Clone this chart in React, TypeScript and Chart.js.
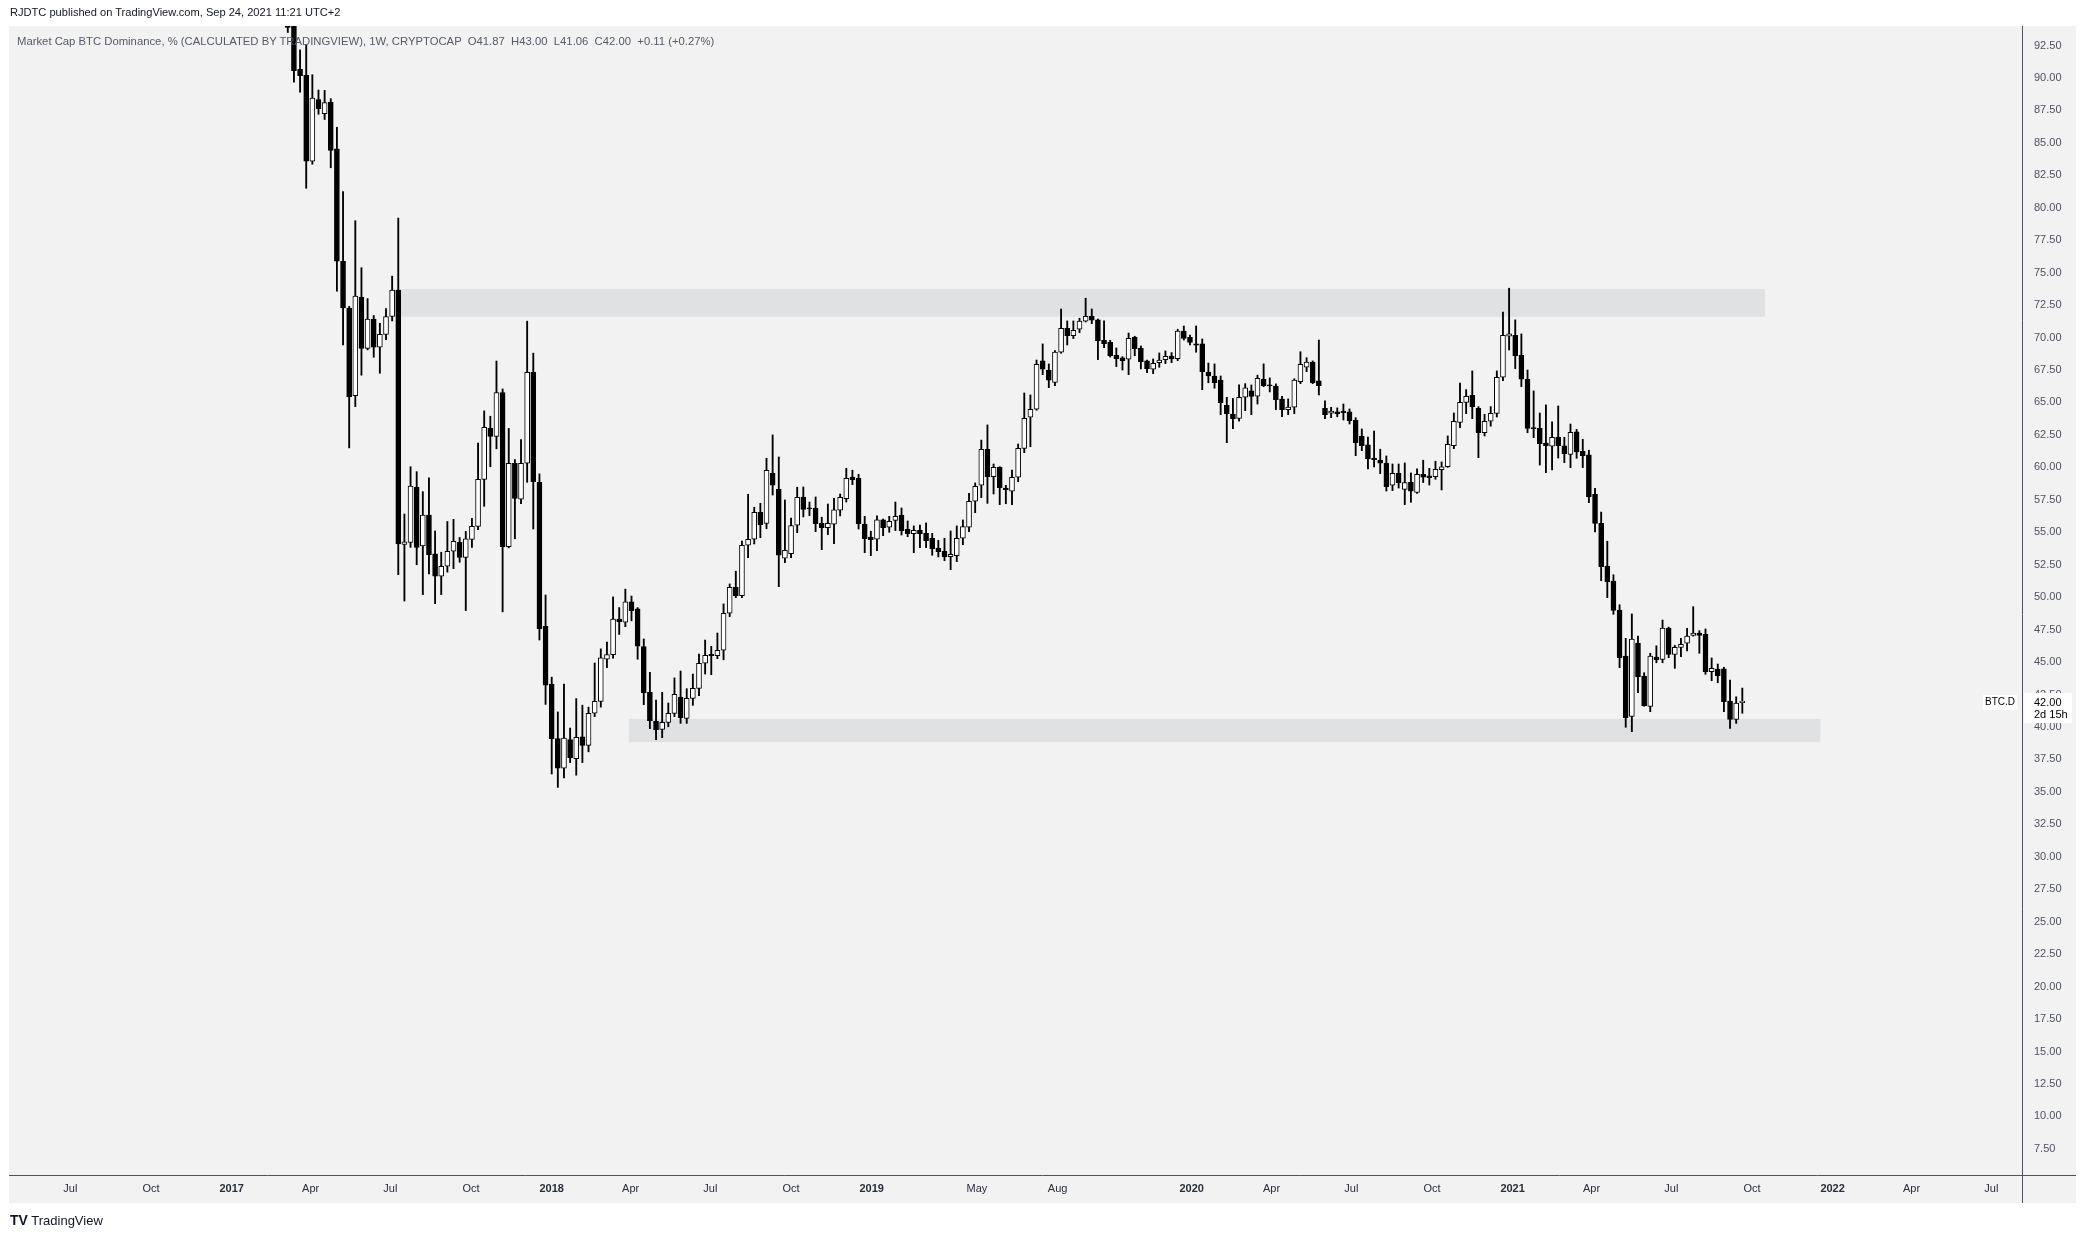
import React, { useEffect, useRef } from 'react';
import { Chart, registerables } from 'chart.js';

Chart.register(...registerables);

// ---- data (weekly candles, BTC dominance %, first candle week of 2017-03-06) ----
const firstWeek = '2017-03-06';

const opens = [
  95.5, 94.6, 90.67, 90.2, 83.58, 88.33, 87.25, 88.14, 84.53, 75.88,
  72.28, 65.53, 73.12, 69.17, 71.43, 69.25, 70.25, 71.62, 73.66, 54.07,
  54.22, 58.47, 53.95, 56.33, 53.34, 51.62, 52.38, 53.54, 54.22, 53.07,
  54.45, 55.46, 59.07, 63.0, 62.38, 65.77, 53.89, 60.32, 57.55, 60.32,
  67.33, 58.85, 47.78, 43.3, 39.1, 36.82, 39.03, 37.56, 39.24, 38.59,
  41.06, 41.98, 45.22, 45.58, 48.32, 48.08, 49.64, 49.11, 46.2, 42.67,
  40.44, 39.82, 40.36, 41.05, 42.29, 40.67, 42.21, 42.98, 44.91, 45.6,
  45.49, 45.91, 48.76, 50.76, 50.12, 54.0, 54.46, 56.54, 55.69, 59.55,
  58.3, 53.0, 53.36, 55.54, 57.72, 56.85, 56.85, 55.69, 55.35, 55.62,
  56.7, 57.59, 59.26, 59.16, 55.64, 54.64, 54.46, 55.95, 55.39, 55.92,
  56.31, 55.22, 54.89, 55.15, 54.92, 54.54, 53.79, 53.54, 53.12, 53.2,
  54.54, 55.39, 57.39, 58.62, 61.39, 59.28, 60.0, 58.41, 58.16, 59.24,
  61.46, 63.86, 64.48, 68.2, 67.5, 66.55, 68.87, 70.72, 70.15, 70.64,
  71.26, 71.64, 71.36, 69.79, 69.64, 68.64, 68.43, 68.33, 70.02, 69.17,
  68.2, 67.56, 68.07, 68.3, 68.58, 68.37, 70.49, 70.02, 69.51, 69.51,
  67.35, 67.04, 66.73, 64.78, 64.11, 63.78, 65.4, 65.89, 65.48, 66.79,
  66.35, 66.27, 65.27, 64.45, 64.63, 66.6, 67.71, 68.12, 66.66, 64.54,
  64.17, 64.27, 64.34, 64.27, 63.63, 62.42, 61.73, 60.72, 60.57, 60.34,
  58.62, 59.55, 58.31, 58.85, 58.08, 59.47, 59.34, 59.28, 59.82, 60.05,
  61.67, 63.47, 65.01, 65.55, 64.55, 62.67, 63.55, 64.16, 66.94, 70.1,
  70.18, 68.64, 66.79, 63.03, 63.01, 61.88, 61.63, 62.34, 61.65, 61.0,
  62.73, 61.24, 60.96, 57.93, 55.69, 52.4, 51.25, 49.01, 45.47, 40.82,
  46.47, 43.93, 41.59, 45.39, 45.21, 47.63, 45.6, 46.14, 46.45, 47.06,
  47.24, 47.16, 44.26, 44.47, 44.49, 42.0, 40.59, 41.87,
];

const highs = [
  96.5, 95.2, 92.16, 92.55, 90.25, 89.07, 89.04, 88.4, 86.2, 81.25,
  72.4, 79.0, 75.38, 73.0, 71.7, 71.1, 72.23, 74.73, 79.2, 56.41,
  60.05, 59.67, 58.13, 59.2, 55.1, 53.46, 55.83, 56.0, 54.6, 55.07,
  56.07, 61.88, 64.35, 63.94, 68.19, 66.04, 63.0, 60.6, 62.14, 71.26,
  68.8, 59.5, 50.17, 43.84, 41.16, 43.3, 39.92, 42.19, 41.68, 41.53,
  44.93, 46.02, 46.55, 50.02, 49.2, 50.62, 50.09, 49.2, 46.78, 44.21,
  42.08, 42.67, 41.85, 43.78, 44.31, 42.95, 44.08, 45.62, 46.7, 46.22,
  47.24, 49.48, 51.02, 52.0, 54.33, 57.93, 56.93, 57.23, 60.7, 62.5,
  60.8, 57.49, 56.1, 58.47, 58.49, 57.33, 57.72, 56.16, 57.18, 57.62,
  57.95, 59.93, 59.78, 59.47, 56.23, 55.08, 56.26, 56.02, 56.23, 57.33,
  56.87, 55.87, 55.49, 55.56, 55.72, 54.92, 54.38, 54.54, 55.1, 55.49,
  55.95, 58.0, 58.8, 62.1, 63.27, 60.26, 60.05, 58.62, 59.8, 61.8,
  65.73, 65.58, 68.27, 69.51, 67.97, 69.0, 72.2, 71.28, 71.28, 71.49,
  73.03, 72.2, 71.43, 71.28, 69.79, 69.2, 68.53, 70.35, 70.1, 69.35,
  68.27, 68.35, 68.81, 68.97, 68.84, 70.64, 70.89, 70.2, 70.89, 69.89,
  68.04, 67.97, 67.04, 65.4, 65.32, 66.35, 66.45, 66.35, 67.1, 67.97,
  66.89, 66.43, 65.47, 65.27, 66.83, 68.91, 68.45, 68.2, 69.81, 65.12,
  64.63, 64.58, 64.88, 64.5, 63.83, 62.96, 62.34, 62.8, 61.4, 60.88,
  60.26, 60.26, 60.34, 59.57, 59.88, 60.55, 59.93, 60.47, 60.42, 62.42,
  64.19, 66.5, 65.99, 67.43, 64.68, 64.09, 64.68, 67.43, 71.96, 73.8,
  71.36, 70.28, 67.5, 65.89, 64.19, 64.81, 63.5, 64.73, 62.32, 63.34,
  62.93, 62.16, 61.32, 58.39, 56.56, 54.31, 51.73, 49.42, 46.83, 48.71,
  47.01, 44.18, 45.68, 46.26, 48.24, 47.7, 46.29, 46.83, 47.6, 49.27,
  47.42, 47.55, 45.32, 44.85, 44.6, 43.62, 42.33, 43.0,
];

const lows = [
  93.5, 89.67, 88.9, 81.5, 83.35, 87.2, 86.8, 83.08, 73.57, 69.43,
  61.5, 64.68, 67.1, 69.05, 68.48, 67.25, 69.83, 71.28, 51.73, 49.7,
  53.84, 52.5, 50.2, 51.8, 49.5, 50.2, 51.93, 52.2, 52.69, 48.97,
  53.83, 55.2, 57.0, 60.05, 61.43, 48.87, 53.8, 54.5, 57.2, 58.85,
  55.25, 46.7, 41.74, 36.38, 35.35, 36.08, 37.26, 36.29, 37.26, 38.09,
  40.8, 41.53, 44.57, 45.3, 47.13, 47.73, 48.17, 45.22, 41.72, 39.87,
  39.02, 39.18, 40.02, 40.8, 40.28, 40.28, 41.67, 42.41, 44.08, 44.03,
  45.26, 45.18, 48.5, 49.96, 49.96, 53.04, 54.1, 54.58, 55.28, 57.87,
  50.81, 52.66, 53.04, 54.97, 56.18, 56.28, 55.05, 53.66, 54.82, 54.12,
  56.26, 57.33, 58.67, 55.25, 53.43, 53.2, 53.58, 54.74, 55.0, 55.13,
  54.79, 54.66, 53.43, 53.82, 53.82, 53.23, 53.1, 52.81, 52.12, 52.74,
  54.04, 55.05, 56.51, 57.67, 57.23, 57.95, 57.13, 57.2, 57.13, 58.9,
  61.13, 61.59, 64.4, 67.14, 66.14, 66.29, 68.79, 69.43, 69.92, 70.38,
  71.2, 71.07, 68.3, 69.22, 68.5, 67.76, 67.5, 67.14, 68.6, 67.58,
  67.3, 67.22, 67.71, 67.99, 68.07, 68.22, 69.81, 69.43, 68.87, 65.98,
  66.52, 66.1, 64.06, 61.9, 62.98, 63.55, 64.37, 64.06, 64.88, 66.22,
  65.81, 64.45, 63.9, 64.06, 64.14, 66.45, 67.37, 66.45, 65.58, 63.75,
  63.83, 63.9, 63.65, 63.34, 60.9, 61.29, 59.88, 60.03, 59.52, 58.18,
  58.21, 58.41, 57.13, 57.31, 58.0, 58.83, 58.64, 59.08, 58.26, 60.0,
  61.44, 63.06, 64.14, 63.75, 60.75, 62.42, 63.17, 63.88, 66.68, 69.04,
  67.6, 66.22, 62.67, 62.29, 60.18, 59.59, 59.8, 60.72, 60.36, 59.98,
  60.7, 59.98, 57.28, 55.02, 51.27, 49.96, 48.68, 44.57, 39.98, 39.64,
  42.64, 41.6, 41.18, 44.95, 44.95, 45.34, 44.52, 45.42, 45.86, 47.0,
  45.68, 44.06, 43.57, 43.41, 41.18, 39.9, 40.28, 41.06,
];

const closes = [
  93.9, 90.56, 90.17, 83.58, 88.45, 87.63, 88.1, 84.42, 75.88, 72.28,
  65.45, 73.2, 69.17, 71.43, 69.25, 70.25, 71.62, 73.66, 54.1, 54.26,
  58.55, 53.84, 56.33, 53.27, 51.62, 52.38, 53.54, 54.3, 53.07, 54.5,
  55.46, 59.07, 63.09, 62.38, 65.77, 53.89, 60.32, 57.6, 60.32, 67.33,
  58.9, 47.58, 43.22, 39.1, 36.82, 39.15, 37.64, 39.2, 38.59, 41.06,
  41.98, 45.32, 45.58, 48.32, 48.11, 49.64, 48.97, 46.22, 42.64, 40.49,
  39.8, 40.36, 41.05, 42.52, 40.72, 42.21, 42.98, 44.91, 45.52, 45.49,
  45.91, 48.76, 50.76, 50.12, 54.0, 54.46, 56.54, 55.59, 59.78, 58.62,
  53.23, 53.61, 55.52, 57.7, 56.77, 56.8, 55.66, 55.35, 55.69, 56.72,
  57.7, 59.16, 59.05, 55.66, 54.51, 54.43, 55.95, 55.35, 55.85, 56.23,
  55.12, 54.89, 55.15, 54.89, 54.35, 53.74, 53.51, 53.12, 53.31, 54.54,
  55.43, 57.39, 58.54, 61.39, 59.28, 60.0, 58.43, 58.28, 59.24, 61.46,
  63.78, 64.48, 67.94, 67.56, 66.71, 68.89, 70.72, 70.15, 70.56, 71.26,
  71.64, 71.33, 69.76, 69.53, 68.6, 68.37, 68.22, 69.94, 69.14, 68.14,
  67.6, 68.02, 68.27, 68.56, 68.35, 70.49, 69.94, 69.63, 69.41, 67.37,
  67.04, 66.52, 64.98, 64.14, 63.75, 65.4, 66.12, 65.46, 66.86, 66.3,
  66.27, 65.22, 64.45, 64.65, 66.73, 67.94, 68.12, 66.52, 66.3, 64.06,
  64.34, 64.14, 64.21, 63.6, 61.9, 61.67, 60.65, 60.59, 60.32, 58.51,
  59.55, 58.83, 58.83, 58.16, 59.47, 59.24, 59.21, 59.85, 60.05, 61.78,
  63.55, 65.01, 65.47, 64.68, 62.67, 63.55, 64.16, 66.94, 70.18, 70.28,
  68.6, 66.79, 63.01, 62.98, 61.83, 61.67, 62.32, 61.67, 61.06, 62.7,
  61.19, 60.9, 57.74, 55.69, 52.35, 51.19, 48.99, 45.34, 40.72, 46.78,
  43.88, 41.64, 45.47, 45.18, 47.63, 45.6, 46.14, 46.37, 47.01, 47.24,
  47.06, 44.26, 44.52, 43.95, 41.95, 40.59, 41.85, 42.0,
];

// horizontal support / resistance zones drawn on the chart
const zoneStarts = ['2017-07-03', '2018-03-30'];
const zoneEnds = ['2021-10-16', '2021-12-18'];
const zoneLows = [71.6, 38.84];
const zoneHighs = [73.74, 40.62];

// time axis ticks
const xTickDates = [
  '2016-07-01', '2016-10-01', '2017-01-01', '2017-04-01', '2017-07-01', '2017-10-01',
  '2018-01-01', '2018-04-01', '2018-07-01', '2018-10-01', '2019-01-01', '2019-05-01',
  '2019-08-01', '2020-01-01', '2020-04-01', '2020-07-01', '2020-10-01', '2021-01-01',
  '2021-04-01', '2021-07-01', '2021-10-01', '2022-01-01', '2022-04-01', '2022-07-01',
];
const xTickLabels = [
  'Jul', 'Oct', '2017', 'Apr', 'Jul', 'Oct', '2018', 'Apr', 'Jul', 'Oct', '2019', 'May',
  'Aug', '2020', 'Apr', 'Jul', 'Oct', '2021', 'Apr', 'Jul', 'Oct', '2022', 'Apr', 'Jul',
];
const viewStart = '2016-04-22';
const viewEnd = '2022-08-05';

// price axis ticks
const yTicks = [
  7.5, 10, 12.5, 15, 17.5, 20, 22.5, 25, 27.5, 30, 32.5, 35, 37.5, 40, 42.5, 45, 47.5,
  50, 52.5, 55, 57.5, 60, 62.5, 65, 67.5, 70, 72.5, 75, 77.5, 80, 82.5, 85, 87.5, 90, 92.5,
];
const yMin = 5.49;
const yMax = 94.0;

const symbol = 'BTC.D';
const lastPrice = 42.0;
const countdown = '2d 15h';
const publishedText = 'RJDTC published on TradingView.com, Sep 24, 2021 11:21 UTC+2';
const legendText =
  'Market Cap BTC Dominance, % (CALCULATED BY TRADINGVIEW), 1W, CRYPTOCAP  O41.87  H43.00  L41.06  C42.00  +0.11 (+0.27%)';

// ---- helpers ----
const ORIGIN = Date.UTC(2017, 0, 1);
const dayOf = (s: string) => (Date.parse(s + 'T00:00:00Z') - ORIGIN) / 86400000;

const FONT = "'Liberation Sans', Arial, sans-serif";
const PANEL = '#f2f2f2';
const AXIS_LINE = '#50535e';
const TEXT = '#131722';

export default function App() {
  const canvasRef = useRef<HTMLCanvasElement | null>(null);

  useEffect(() => {
    const canvas = canvasRef.current;
    if (!canvas) return;
    const x0 = dayOf(firstWeek);
    const xs = opens.map((_, i) => x0 + 7 * i);
    const bodyData = xs.map((x, i) => ({ x, y: [opens[i], closes[i]] }));
    const wickData = xs.map((x, i) => ({ x, y: [lows[i], highs[i]] }));
    const bodyColors = xs.map((_, i) => (closes[i] >= opens[i] ? '#ffffff' : '#000000'));

    const panelPlugin = {
      id: 'panel',
      beforeDraw(chart: any) {
        const { ctx, chartArea } = chart;
        ctx.save();
        ctx.fillStyle = '#ffffff';
        ctx.fillRect(0, 0, chart.width, chart.height);
        ctx.fillStyle = PANEL;
        ctx.fillRect(chartArea.left, chartArea.top, 2076 - chartArea.left, 1203 - chartArea.top);
        ctx.restore();
      },
      beforeDatasetsDraw(chart: any) {
        const { ctx, chartArea, scales } = chart;
        ctx.save();
        ctx.beginPath();
        ctx.rect(chartArea.left, chartArea.top, chartArea.right - chartArea.left, chartArea.bottom - chartArea.top);
        ctx.clip();
        ctx.fillStyle = '#e0e1e3';
        zoneStarts.forEach((s, i) => {
          const xa = scales.x.getPixelForValue(dayOf(s));
          const xb = scales.x.getPixelForValue(dayOf(zoneEnds[i]));
          const ya = scales.y.getPixelForValue(zoneHighs[i]);
          const yb = scales.y.getPixelForValue(zoneLows[i]);
          ctx.fillRect(xa, ya, xb - xa, yb - ya);
        });
        ctx.restore();
      },
      afterDraw(chart: any) {
        const { ctx, chartArea, scales } = chart;
        ctx.save();
        ctx.strokeStyle = AXIS_LINE;
        ctx.lineWidth = 1;
        ctx.beginPath();
        ctx.moveTo(chartArea.left, Math.round(chartArea.bottom) + 0.5);
        ctx.lineTo(2076, Math.round(chartArea.bottom) + 0.5);
        ctx.moveTo(Math.round(chartArea.right) + 0.5, chartArea.top);
        ctx.lineTo(Math.round(chartArea.right) + 0.5, 1203);
        ctx.stroke();

        // last price label on the price scale
        const py = scales.y.getPixelForValue(lastPrice);
        const bx = Math.round(chartArea.right) + 2;
        ctx.fillStyle = '#ffffff';
        ctx.fillRect(bx, py - 8, 48, 30);
        ctx.fillStyle = '#000000';
        ctx.font = `11px ${FONT}`;
        ctx.textBaseline = 'middle';
        ctx.textAlign = 'left';
        ctx.fillText(lastPrice.toFixed(2), bx + 10, py + 2);
        ctx.fillText(countdown, bx + 10, py + 14);

        // symbol label
        ctx.fillStyle = '#ffffff';
        ctx.fillRect(chartArea.right - 39, py - 6, 34, 15);
        ctx.fillStyle = '#000000';
        ctx.font = `10px ${FONT}`;
        ctx.textAlign = 'center';
        ctx.fillText(symbol, chartArea.right - 22, py + 1.5);
        ctx.restore();
      },
    };

    const chart = new Chart(canvas, {
      type: 'bar',
      data: {
        datasets: [
          {
            label: 'body',
            data: bodyData as any,
            backgroundColor: bodyColors,
            borderColor: '#000000',
            borderWidth: 1,
            borderSkipped: false,
            barThickness: 5,
            minBarLength: 1,
            grouped: false,
            order: 0,
            clip: 0,
          } as any,
          {
            label: 'wick',
            data: wickData as any,
            backgroundColor: '#000000',
            borderWidth: 0,
            barThickness: 1.2,
            grouped: false,
            order: 1,
            clip: 0,
          } as any,
        ],
      },
      options: {
        animation: false,
        responsive: false,
        devicePixelRatio: 1,
        events: [],
        layout: { padding: { left: 9, top: 26, right: 10, bottom: 36 } },
        plugins: { legend: { display: false }, tooltip: { enabled: false } },
        scales: {
          x: {
            type: 'linear',
            offset: false,
            min: dayOf(viewStart),
            max: dayOf(viewEnd),
            grid: { display: false, drawTicks: false },
            border: { display: false },
            afterBuildTicks: (scale: any) => {
              scale.ticks = xTickDates.map((d) => ({ value: dayOf(d) }));
            },
            afterFit: (scale: any) => {
              scale.height = 28;
            },
            ticks: {
              autoSkip: false,
              maxRotation: 0,
              minRotation: 0,
              padding: 7,
              color: '#2a2e39',
              font: (ctx: any) => {
                const lbl = xTickLabels[ctx.index] || '';
                return { family: FONT, size: 11, weight: /^\d{4}$/.test(lbl) ? 'bold' : 'normal' };
              },
              callback: (_v: any, i: number) => xTickLabels[i],
            },
          },
          y: {
            type: 'linear',
            position: 'right',
            min: yMin,
            max: yMax,
            grid: { display: false, drawTicks: false },
            border: { display: false },
            afterBuildTicks: (scale: any) => {
              scale.ticks = yTicks.map((v) => ({ value: v }));
            },
            afterFit: (scale: any) => {
              scale.width = 54;
            },
            ticks: {
              padding: 12,
              color: '#50535e',
              font: { family: FONT, size: 11 },
              callback: (v: any) => Number(v).toFixed(2),
            },
          },
        },
      } as any,
      plugins: [panelPlugin],
    });
    return () => chart.destroy();
  }, []);

  return (
    <div style={{ position: 'absolute', left: 0, top: 0, width: 2086, height: 1239, background: '#ffffff', overflow: 'hidden' }}>
      <canvas ref={canvasRef} width={2086} height={1239} style={{ position: 'absolute', left: 0, top: 0, width: 2086, height: 1239 }} />
      <div style={{ position: 'absolute', left: 10, top: 6, font: `11.1px ${FONT}`, color: TEXT, whiteSpace: 'pre' }}>
        {publishedText}
      </div>
      <div style={{ position: 'absolute', left: 17, top: 35, font: `11.3px ${FONT}`, color: '#555a66', whiteSpace: 'pre' }}>
        {legendText}
      </div>
      <div style={{ position: 'absolute', left: 10, top: 1212, font: `13px ${FONT}`, color: TEXT, whiteSpace: 'pre' }}>
        <span style={{ fontWeight: 'bold', fontSize: 14 }}>TV</span> TradingView
      </div>
    </div>
  );
}
